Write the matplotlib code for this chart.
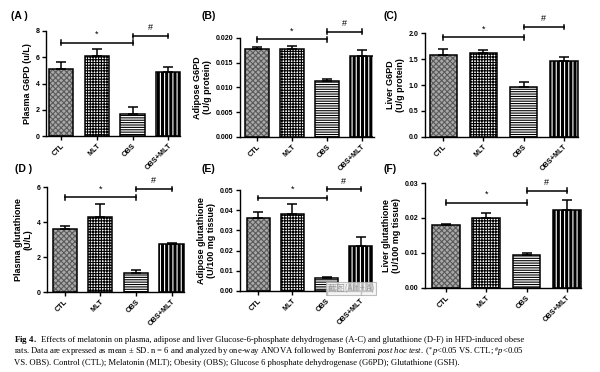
import matplotlib
matplotlib.use("Agg")
import matplotlib.pyplot as plt
import numpy as np

plt.rcParams['font.family'] = ['Liberation Sans', 'DejaVu Sans']
plt.rcParams['hatch.linewidth'] = 0.8
plt.rcParams['mathtext.fontset'] = 'custom'
plt.rcParams['mathtext.rm'] = 'Liberation Serif'
plt.rcParams['mathtext.it'] = 'Liberation Serif:italic'
plt.rcParams['mathtext.bf'] = 'Liberation Serif:bold'

groups = ["CTL", "MLT", "OBS", "OBS+MLT"]

# panel data: means and SDs
plasma_g6pd = [5.1, 6.1, 1.7, 4.9]
plasma_g6pd_sd = [0.55, 0.5, 0.55, 0.35]
adipose_g6pd = [0.0178, 0.0177, 0.0113, 0.0163]
adipose_g6pd_sd = [0.0003, 0.0007, 0.0005, 0.0012]
liver_g6pd = [1.57, 1.62, 0.97, 1.46]
liver_g6pd_sd = [0.13, 0.06, 0.08, 0.08]
plasma_gsh = [3.6, 4.3, 1.1, 2.75]
plasma_gsh_sd = [0.15, 0.75, 0.15, 0.05]
adipose_gsh = [0.036, 0.038, 0.0065, 0.0225]
adipose_gsh_sd = [0.003, 0.005, 0.0005, 0.004]
liver_gsh = [0.018, 0.0199, 0.0093, 0.0224]
liver_gsh_sd = [0.0004, 0.0015, 0.0006, 0.0028]

panels = [
    dict(tag="(A )", vals=plasma_g6pd, sd=plasma_g6pd_sd, ylabel="Plasma G6PD (u/L)",
         ylim=(0, 8), yticks=[0, 2, 4, 6, 8], fmt="{:g}", star=7.1, hash_=7.6,
         rect=[0.077, 0.634, 0.226, 0.283], xlim=(-0.42, 3.38), tagpos=(0.018, 0.958)),
    dict(tag="(B)", vals=adipose_g6pd, sd=adipose_g6pd_sd, ylabel="Adipose G6PD\n(U/g protein)",
         ylim=(0, 0.020), yticks=[0, 0.005, 0.010, 0.015, 0.020], fmt="{:.3f}", star=0.0197, hash_=0.0213,
         rect=[0.400, 0.632, 0.222, 0.266], xlim=(-0.49, 3.32), tagpos=(0.335, 0.958)),
    dict(tag="(C)", vals=liver_g6pd, sd=liver_g6pd_sd, ylabel="Liver G6PD\n(U/g protein)",
         ylim=(0, 2.0), yticks=[0, 0.5, 1.0, 1.5, 2.0], fmt="{:.1f}", star=1.92, hash_=2.12,
         rect=[0.708, 0.632, 0.262, 0.279], xlim=(-0.46, 3.45), tagpos=(0.640, 0.958)),
    dict(tag="(D )", vals=plasma_gsh, sd=plasma_gsh_sd, ylabel="Plasma glutathione\n(U/L)",
         ylim=(0, 6), yticks=[0, 2, 4, 6], fmt="{:g}", star=5.41, hash_=5.89,
         rect=[0.078, 0.215, 0.230, 0.282], xlim=(-0.5, 3.37), tagpos=(0.025, 0.545)),
    dict(tag="(E)", vals=adipose_gsh, sd=adipose_gsh_sd, ylabel="Adipose glutathione\n(U/100 mg tissue)",
         ylim=(0, 0.05), yticks=[0, 0.01, 0.02, 0.03, 0.04, 0.05], fmt="{:.2f}", star=0.0462, hash_=0.0505,
         rect=[0.400, 0.218, 0.222, 0.271], xlim=(-0.54, 3.37), tagpos=(0.335, 0.545)),
    dict(tag="(F)", vals=liver_gsh, sd=liver_gsh_sd, ylabel="Liver glutathione\n(U/100 mg tissue)",
         ylim=(0, 0.03), yticks=[0, 0.01, 0.02, 0.03], fmt="{:.2f}", star=0.0244, hash_=0.0278,
         rect=[0.708, 0.226, 0.262, 0.282], xlim=(-0.52, 3.37), tagpos=(0.640, 0.545)),
]

# bar styles: (facecolor, hatchcolor, hatch)
styles = [("#a8a8a8", "#5a5a5a", "xxxxxx"),
          ("white", "black", "++++++"),
          ("white", "black", "-------"),
          ("black", "white", "||||")]

fig = plt.figure(figsize=(6.0, 3.72), dpi=100)
x = np.arange(len(groups))
width = 0.68

for p in panels:
    ax = fig.add_axes(p["rect"])
    for i in range(len(groups)):
        fc, hc, h = styles[i]
        ax.bar(x[i], p["vals"][i], width=width, color=fc, edgecolor=hc, hatch=h,
               linewidth=0, zorder=2)
    ax.bar(x, p["vals"], width=width, facecolor="none", edgecolor="black",
           linewidth=1.1, zorder=3)
    ax.errorbar(x, p["vals"], yerr=[np.zeros(4), p["sd"]], fmt="none", ecolor="black",
                elinewidth=1.1, capsize=3.5, capthick=1.1, zorder=4)
    ax.set_xlim(*p["xlim"])
    ax.set_ylim(*p["ylim"])
    ax.set_yticks(p["yticks"])
    ax.set_yticklabels([p["fmt"].format(v) for v in p["yticks"]], fontsize=5, fontweight="bold")
    ax.set_xticks(x)
    ax.set_xticklabels(groups, rotation=45, ha="right", rotation_mode="anchor",
                       fontsize=5.2, fontweight="bold")
    ax.spines["top"].set_visible(False)
    ax.spines["right"].set_visible(False)
    ax.spines["left"].set_linewidth(1.0)
    ax.spines["bottom"].set_linewidth(1.0)
    ax.spines["bottom"].set_bounds(p["xlim"][0], 3 + width / 2)
    ax.tick_params(axis="both", length=3, width=1.0, pad=1.5)
    ax.set_ylabel(p["ylabel"], fontsize=6.5, fontweight="bold", labelpad=3, linespacing=1.1)

    rng = p["ylim"][1] - p["ylim"][0]
    cap = rng * 0.022
    for (x0, x1, y, sym) in [(0, 2, p["star"], "*"), (2, 3, p["hash_"], "#")]:
        ax.plot([x0, x1], [y, y], color="black", lw=1.1, clip_on=False, zorder=5)
        ax.plot([x0, x0], [y - cap, y + cap], color="black", lw=1.1, clip_on=False, zorder=5)
        ax.plot([x1, x1], [y - cap, y + cap], color="black", lw=1.1, clip_on=False, zorder=5)
        ax.text((x0 + x1) / 2, y + rng * 0.035, sym, ha="center", va="bottom",
                fontsize=6.5, clip_on=False)

    fig.text(p["tagpos"][0], p["tagpos"][1], p["tag"], fontsize=7.5, fontweight="bold",
             ha="left", va="center")

# screenshot watermark overlay on panel E
fig.text(0.585, 0.225, "截图(Alt + A)", fontsize=6, color="#9a9a9a",
         family=["Noto Sans CJK SC", "DejaVu Sans"], ha="center", va="center",
         bbox=dict(boxstyle="square,pad=0.25", facecolor="#f4f4f4", edgecolor="#b0b0b0",
                   linewidth=0.8, alpha=0.8))

# caption
cap_fs = 6.2
fig.text(0.023, 0.081, r"$\mathbf{Fig\ 4.}$", fontsize=cap_fs + 0.3, ha="left", va="baseline")
fig.text(0.068, 0.081,
         "Effects of melatonin on plasma, adipose and liver Glucose-6-phosphate dehydrogenase (A-C) "
         "and glutathione (D-F) in HFD-induced obese",
         fontsize=cap_fs, family="Liberation Serif", ha="left", va="baseline")
fig.text(0.023, 0.049,
         r"rats. Data are expressed as mean $\pm$ SD. n = 6 and analyzed by one-way ANOVA followed by "
         r"Bonferroni $\mathit{post\ hoc\ test.}$ ($^{*}\mathit{p}$<0.05 VS. CTL; $^{\#}\mathit{p}$<0.05",
         fontsize=cap_fs, family="Liberation Serif", ha="left", va="baseline")
fig.text(0.023, 0.018,
         "VS. OBS). Control (CTL); Melatonin (MLT); Obesity (OBS); Glucose 6 phosphate "
         "dehydrogenase (G6PD); Glutathione (GSH).",
         fontsize=cap_fs, family="Liberation Serif", ha="left", va="baseline")

fig.savefig("out.png", dpi=100, facecolor="white")
